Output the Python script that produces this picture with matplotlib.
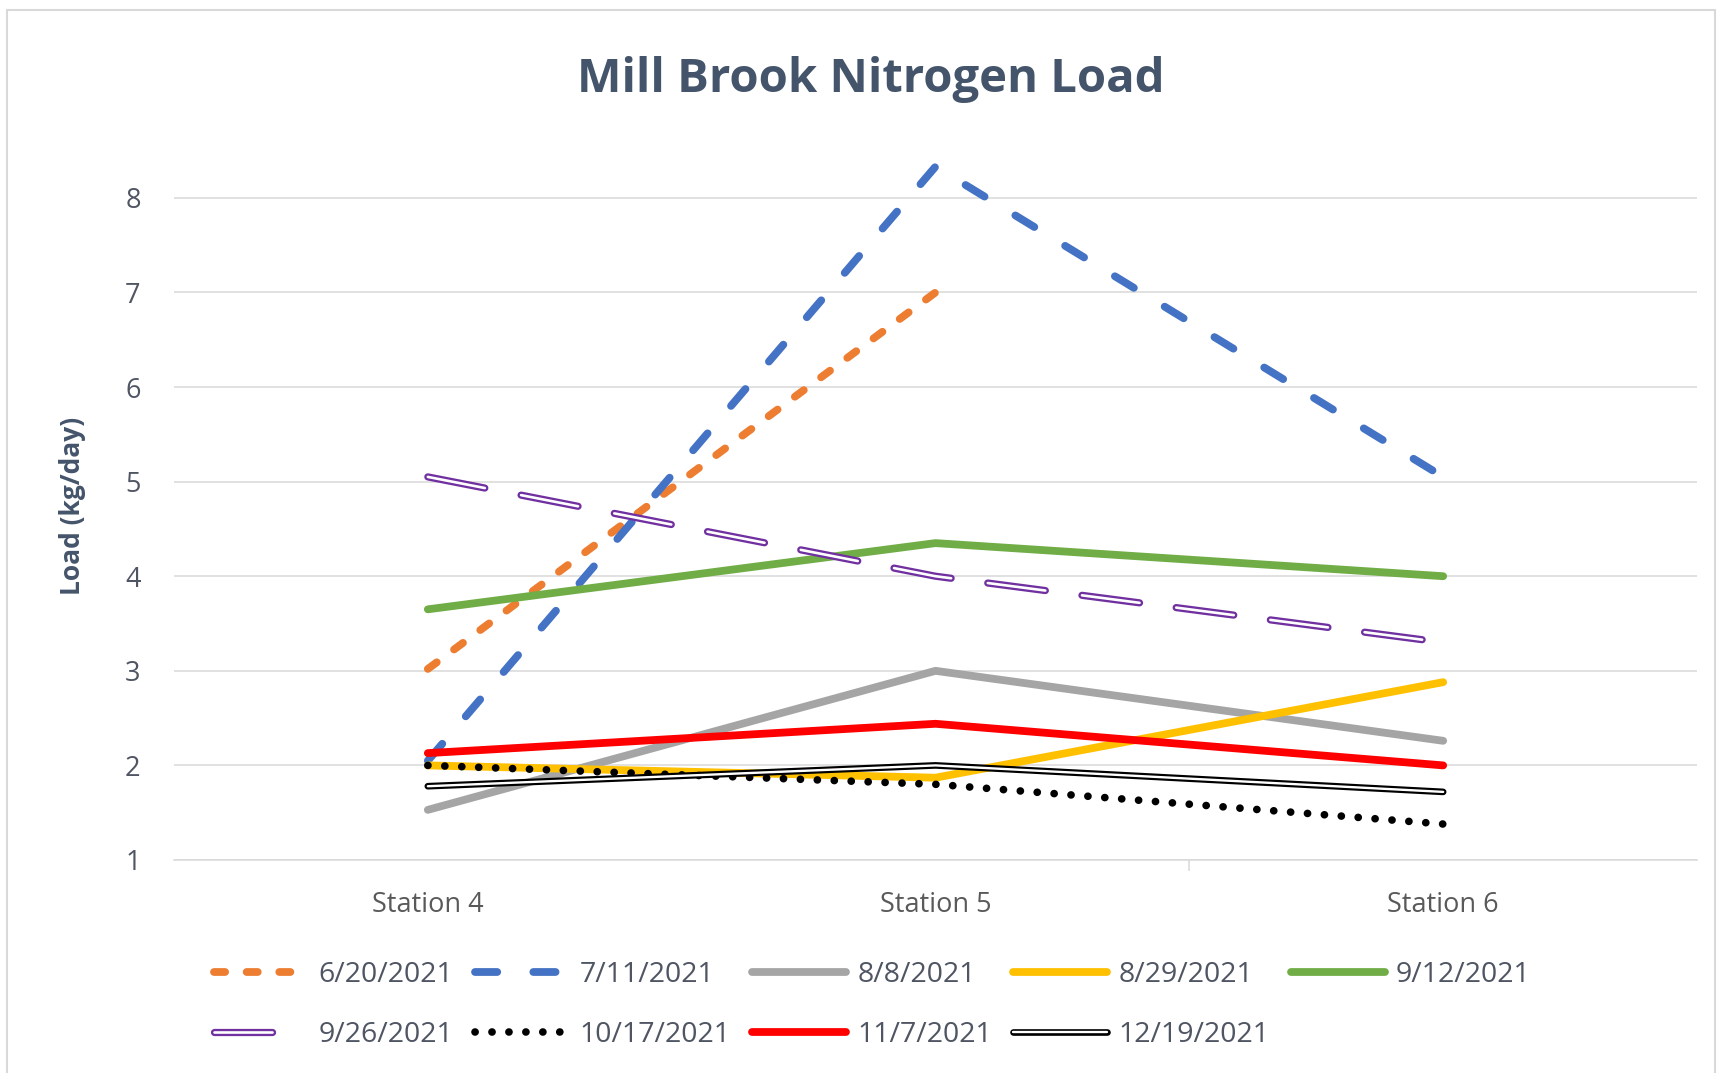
import matplotlib
matplotlib.use('Agg')
import matplotlib.pyplot as plt
import numpy as np
from matplotlib.legend_handler import HandlerTuple
from matplotlib.patches import Rectangle

# ---------------- data ----------------
categories = ['Station 4', 'Station 5', 'Station 6']
dates = ['6/20/2021', '7/11/2021', '8/8/2021', '8/29/2021', '9/12/2021',
         '9/26/2021', '10/17/2021', '11/7/2021', '12/19/2021']
s_0620 = [3.02, 7.00, np.nan]
s_0711 = [2.05, 8.33, 5.05]
s_0808 = [1.53, 3.00, 2.26]
s_0829 = [2.00, 1.87, 2.88]
s_0912 = [3.65, 4.35, 4.00]
s_0926 = [5.05, 4.00, 3.30]
s_1017 = [2.00, 1.80, 1.38]
s_1107 = [2.13, 2.44, 2.00]
s_1219 = [1.78, 2.00, 1.72]
y_ticks = [1, 2, 3, 4, 5, 6, 7, 8]

# ---------------- style ----------------
plt.rcParams['font.family'] = ['Open Sans', 'DejaVu Sans']
plt.rcParams['lines.scale_dashes'] = False

W, H = 1718, 1073
fig = plt.figure(figsize=(W / 100, H / 100), dpi=100)
fig.patch.set_facecolor('white')
ax = fig.add_axes([174 / W, 213 / H, 1523 / W, 0.670])

x = np.arange(len(categories))
LW = 5.6

handles = []
# 6/20 orange dashed
l, = ax.plot(x, s_0620, color='#ED7D31', lw=LW, linestyle=(0, (8, 15.5)),
             dash_capstyle='round', solid_joinstyle='round')
handles.append(l)
# 7/11 blue long dash
l, = ax.plot(x, s_0711, color='#4472C4', lw=LW, linestyle=(0, (16, 26)),
             dash_capstyle='round', solid_joinstyle='round')
handles.append(l)
# 8/8 gray
l, = ax.plot(x, s_0808, color='#A5A5A5', lw=LW, solid_capstyle='round',
             solid_joinstyle='round')
handles.append(l)
# 8/29 gold
l, = ax.plot(x, s_0829, color='#FFC000', lw=LW, solid_capstyle='round',
             solid_joinstyle='round')
handles.append(l)
# 9/12 green
l, = ax.plot(x, s_0912, color='#70AD47', lw=LW, solid_capstyle='round',
             solid_joinstyle='round')
handles.append(l)
# 9/26 purple hollow dashed
pdash = (0, (41.8, 26.6))
lo, = ax.plot(x, s_0926, color='#7030A0', lw=5.2, linestyle=pdash,
              dash_capstyle='round')
li, = ax.plot(x, s_0926, color='white', lw=1.9, linestyle=pdash,
              dash_capstyle='round')
handles.append((lo, li))
# 10/17 black dots
l, = ax.plot(x, s_1017, color='black', lw=5.5, linestyle=(0, (0.1, 12.1)),
             dash_capstyle='round')
handles.append(l)
# 11/7 red
l, = ax.plot(x, s_1107, color='#FF0000', lw=LW, solid_capstyle='round',
             solid_joinstyle='round')
handles.append(l)
# 12/19 black hollow solid
bo, = ax.plot(x, s_1219, color='black', lw=4.8, solid_capstyle='round',
              solid_joinstyle='round')
bi, = ax.plot(x, s_1219, color='white', lw=1.7, solid_capstyle='round',
              solid_joinstyle='round')
handles.append((bo, bi))

# ---------------- axes ----------------
ax.set_xlim(-0.5, 2.5)
ax.set_ylim(1, 8.6)
ax.set_yticks(y_ticks)
ax.set_yticklabels([str(t) for t in y_ticks])
ax.set_xticks(x)
ax.set_xticklabels(categories)
ax.set_xticks([1.5], minor=True)
ax.tick_params(axis='x', which='major', length=0, pad=22, labelsize=19.5,
               labelcolor='#595959')
ax.tick_params(axis='x', which='minor', length=8, width=1.1, color='#D9D9D9')
ax.tick_params(axis='y', length=0, pad=24, labelsize=19.5, labelcolor='#4F5563')
ax.yaxis.grid(True, color='#D9D9D9', lw=1.1)
ax.set_axisbelow(True)
for s in ['top', 'right', 'left']:
    ax.spines[s].set_visible(False)
ax.spines['bottom'].set_color('#D9D9D9')
ax.spines['bottom'].set_linewidth(1.1)
ax.set_facecolor('none')

# ---------------- texts ----------------
fig.text(871 / W, (H - 92) / H, 'Mill Brook Nitrogen Load', ha='center',
         va='baseline', fontsize=34, fontweight='bold', color='#44546A')
fig.text(72 / W, (H - 506) / H, 'Load (kg/day)', rotation=90, ha='center',
         va='center', fontsize=19, fontweight='bold', color='#44546A')

# chart border
fig.add_artist(Rectangle((7 / W, -0.02), (1715 - 7) / W, (H - 10) / H + 0.02,
                         transform=fig.transFigure, fill=False,
                         ec='#D9D9D9', lw=1.5))

# ---------------- legend ----------------
order = [0, 5, 1, 6, 2, 7, 3, 8, 4]
fig.legend([handles[i] for i in order], [dates[i] for i in order],
           loc='center', bbox_to_anchor=(872 / W, 68 / H), ncol=5,
           frameon=False, fontsize=20.5, handlelength=3.3, handletextpad=0.39,
           columnspacing=0.75, labelspacing=1.1, labelcolor='#4F5563',
           handler_map={tuple: HandlerTuple(ndivide=1)})

fig.savefig('out.png', dpi=100)
